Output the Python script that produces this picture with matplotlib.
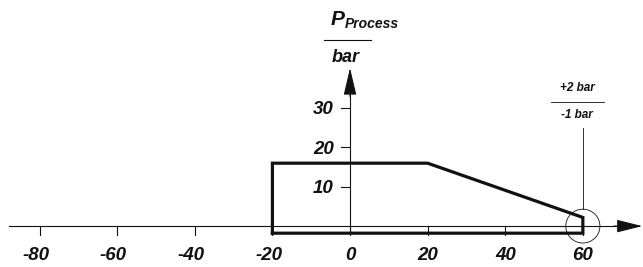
import matplotlib.pyplot as plt
from matplotlib.patches import Ellipse

# operating window of process pressure vs. temperature
x_outline = [-20, -20, 20, 60, 60, -20]
y_outline = [-1.8, 16, 16, 2.2, -1.8, -1.8]
x_ticks = [-80, -60, -40, -20, 0, 20, 40, 60]
y_ticks = [10, 20, 30]
tol_upper = '+2 bar'
tol_lower = '-1 bar'

plt.rcParams['font.family'] = ['Liberation Sans', 'DejaVu Sans']
ink = '#111111'
lab = dict(fontweight='bold', fontstyle='italic', color=ink)

fig = plt.figure(figsize=(6.43, 2.67), dpi=100)
ax = fig.add_axes([0, 0, 1, 1])
ax.set_xlim(-90.2, 75.5)
ax.set_ylim(-10.4, 57.5)
ax.axis('off')

# x axis with arrow
ax.plot([-88, 70], [0, 0], color=ink, lw=0.8)
ax.annotate('', xy=(75.3, 0), xytext=(68, 0),
            arrowprops=dict(arrowstyle='-|>,head_length=1.6,head_width=0.4',
                            color=ink, lw=0.8, shrinkA=0, shrinkB=0))
# y axis with arrow
ax.plot([0, 0], [y_outline[0], 35], color=ink, lw=0.8)
ax.annotate('', xy=(0, 40.2), xytext=(0, 33),
            arrowprops=dict(arrowstyle='-|>,head_length=1.7,head_width=0.4',
                            color=ink, lw=0.8, shrinkA=0, shrinkB=0))

for xt in x_ticks:
    ax.plot([xt, xt], [0, -2.2], color=ink, lw=0.8)
    ax.text(xt - 1.0 if xt < 0 else xt, -7.5, str(xt), ha='center', va='center',
            fontsize=13.5, **lab)
for yt in y_ticks:
    ax.plot([-2.4, 0], [yt, yt], color=ink, lw=0.8)
    ax.text(-4.2, yt - 0.4, str(yt), ha='right', va='center', fontsize=13.5, **lab)

# operating window outline
ax.plot(x_outline, y_outline, color=ink, lw=2.3, solid_joinstyle='miter')

# tolerance marker
ax.add_patch(Ellipse((60, 0), 8.8, 8.6, fill=False, color=ink, lw=0.6))
ax.plot([60, 60], [4.3, 25], color=ink, lw=0.6)
ax.plot([51.8, 65.5], [31.6, 31.6], color=ink, lw=0.6)
ax.text(58.5, 35.0, tol_upper, ha='center', va='center', fontsize=8.5, **lab)
ax.text(58.5, 28.2, tol_lower, ha='center', va='center', fontsize=8.5, **lab)

# y axis unit label
ax.text(-1.5, 52.6, 'P', ha='right', va='center', fontsize=15, **lab)
ax.text(-1.3, 51.3, 'Process', ha='left', va='center', fontsize=10, **lab)
ax.plot([-6.8, 5.4], [47.3, 47.3], color=ink, lw=0.8)
ax.text(-1, 42.9, 'bar', ha='center', va='center', fontsize=13, **lab)

fig.savefig('out.png', dpi=100)
